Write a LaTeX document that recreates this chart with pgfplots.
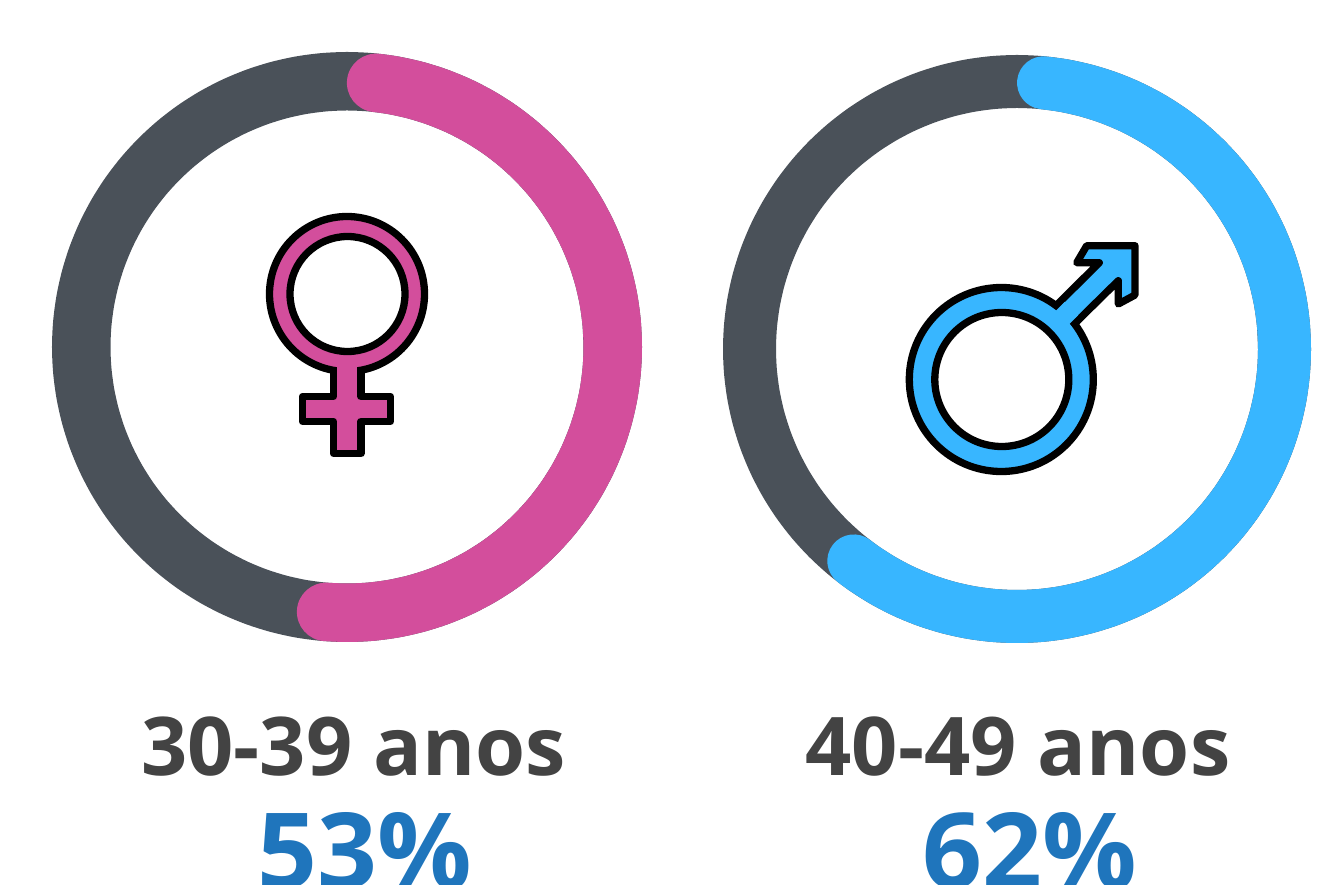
\documentclass[border=0pt]{standalone}
\usepackage{pgfplots}
\pgfplotsset{compat=1.18}
\usepgfplotslibrary{polar}
\usepackage{fontspec}
\setmainfont{Open Sans}[BoldFont={* Bold}]
\definecolor{ringgrey}{HTML}{4A5159}
\definecolor{pinkc}{HTML}{D34E9C}
\definecolor{bluec}{HTML}{38B6FF}
\definecolor{txtc}{HTML}{434343}
\definecolor{pctc}{HTML}{1F75BC}
\begin{document}
\begin{tikzpicture}
\path[use as bounding box,clip] (0,0) rectangle (1341pt,885pt);
% left donut: 53 %
\begin{polaraxis}[at={(347pt,538pt)},anchor=center,scale only axis,width=600pt,height=600pt,
  xmin=0,xmax=360,ymin=0,ymax=300,hide axis,clip=false]
\addplot[ringgrey,smooth,line width=58.5pt,line join=round,no markers] coordinates {
(0,265.75)(5,265.75)(10,265.75)(15,265.75)(20,265.75)(25,265.75)(30,265.75)(35,265.75)(40,265.75)(45,265.75)(50,265.75)(55,265.75)(60,265.75)(65,265.75)(70,265.75)(75,265.75)(80,265.75)(85,265.75)(90,265.75)(95,265.75)(100,265.75)(105,265.75)(110,265.75)(115,265.75)(120,265.75)(125,265.75)(130,265.75)(135,265.75)(140,265.75)(145,265.75)(150,265.75)(155,265.75)(160,265.75)(165,265.75)(170,265.75)(175,265.75)(180,265.75)(185,265.75)(190,265.75)(195,265.75)(200,265.75)(205,265.75)(210,265.75)(215,265.75)(220,265.75)(225,265.75)(230,265.75)(235,265.75)(240,265.75)(245,265.75)(250,265.75)(255,265.75)(260,265.75)(265,265.75)(270,265.75)(275,265.75)(280,265.75)(285,265.75)(290,265.75)(295,265.75)(300,265.75)(305,265.75)(310,265.75)(315,265.75)(320,265.75)(325,265.75)(330,265.75)(335,265.75)(340,265.75)(345,265.75)(350,265.75)(355,265.75)(360,265.75)(365,265.75)};
\addplot[pinkc,smooth,line width=58.5pt,line join=round,line cap=round,no markers] coordinates {
(83.7,265.75)(80,265.75)(75,265.75)(70,265.75)(65,265.75)(60,265.75)(55,265.75)(50,265.75)(45,265.75)(40,265.75)(35,265.75)(30,265.75)(25,265.75)(20,265.75)(15,265.75)(10,265.75)(5,265.75)(0,265.75)(-5,265.75)(-10,265.75)(-15,265.75)(-20,265.75)(-25,265.75)(-30,265.75)(-35,265.75)(-40,265.75)(-45,265.75)(-50,265.75)(-55,265.75)(-60,265.75)(-65,265.75)(-70,265.75)(-75,265.75)(-80,265.75)(-85,265.75)(-90,265.75)(-94.5,265.75)};
\end{polaraxis}
% right donut: 62 %
\begin{polaraxis}[at={(1017pt,536pt)},anchor=center,scale only axis,width=600pt,height=600pt,
  xmin=0,xmax=360,ymin=0,ymax=300,hide axis,clip=false]
\addplot[ringgrey,smooth,line width=53pt,line join=round,no markers] coordinates {
(0,267.5)(5,267.5)(10,267.5)(15,267.5)(20,267.5)(25,267.5)(30,267.5)(35,267.5)(40,267.5)(45,267.5)(50,267.5)(55,267.5)(60,267.5)(65,267.5)(70,267.5)(75,267.5)(80,267.5)(85,267.5)(90,267.5)(95,267.5)(100,267.5)(105,267.5)(110,267.5)(115,267.5)(120,267.5)(125,267.5)(130,267.5)(135,267.5)(140,267.5)(145,267.5)(150,267.5)(155,267.5)(160,267.5)(165,267.5)(170,267.5)(175,267.5)(180,267.5)(185,267.5)(190,267.5)(195,267.5)(200,267.5)(205,267.5)(210,267.5)(215,267.5)(220,267.5)(225,267.5)(230,267.5)(235,267.5)(240,267.5)(245,267.5)(250,267.5)(255,267.5)(260,267.5)(265,267.5)(270,267.5)(275,267.5)(280,267.5)(285,267.5)(290,267.5)(295,267.5)(300,267.5)(305,267.5)(310,267.5)(315,267.5)(320,267.5)(325,267.5)(330,267.5)(335,267.5)(340,267.5)(345,267.5)(350,267.5)(355,267.5)(360,267.5)(365,267.5)};
\addplot[bluec,smooth,line width=53pt,line join=round,line cap=round,no markers] coordinates {
(84.3,267.5)(80,267.5)(75,267.5)(70,267.5)(65,267.5)(60,267.5)(55,267.5)(50,267.5)(45,267.5)(40,267.5)(35,267.5)(30,267.5)(25,267.5)(20,267.5)(15,267.5)(10,267.5)(5,267.5)(0,267.5)(-5,267.5)(-10,267.5)(-15,267.5)(-20,267.5)(-25,267.5)(-30,267.5)(-35,267.5)(-40,267.5)(-45,267.5)(-50,267.5)(-55,267.5)(-60,267.5)(-65,267.5)(-70,267.5)(-75,267.5)(-80,267.5)(-85,267.5)(-90,267.5)(-95,267.5)(-100,267.5)(-105,267.5)(-110,267.5)(-115,267.5)(-120,267.5)(-125,267.5)(-127.6,267.5)};
\end{polaraxis}
% overlay in pixel coordinates
\begin{axis}[at={(0pt,0pt)},anchor=south west,scale only axis,width=1341pt,height=885pt,
  xmin=0,xmax=1341,ymin=0,ymax=885,y dir=reverse,hide axis,clip=false]
% female sign
\draw[black,fill=pinkc,line width=7.3pt,line join=round]
  (333.5,365)--(333.5,396.5)--(302.5,396.5)--(302.5,421.5)--(333.5,421.5)--(333.5,453.5)
  --(361,453.5)--(361,421.5)--(390.5,421.5)--(390.5,396.5)--(361,396.5)--(361,365)--cycle;
\draw[black,fill=pinkc,line width=7.3pt] (347,294) circle[radius=77.5pt];
\fill[pinkc] (337.2,362) rectangle (357.3,380);
\draw[black,fill=white,line width=7.3pt] (347.5,294) circle[radius=57.5pt];
% male sign
\draw[black,fill=bluec,line width=7.3pt,line join=round]
  (1056.7,305)--(1099.3,262.7)--(1076.7,262.7)--(1086.7,245.7)--(1135,245.7)--(1135,295)
  --(1118.3,304)--(1118.3,280.7)--(1075,323.3)--(1060,340)--cycle;
\draw[black,fill=bluec,line width=7.3pt] (1001.3,379.5) circle[radius=92pt];
\fill[bluec] (1064.9,301.8)--(1078.2,315.1)--(1066.8,326.5)--(1053.5,313.2)--cycle;
\draw[black,fill=white,line width=7.3pt] (1001.8,379.5) circle[radius=67pt];
% texts
\node[anchor=base,inner sep=0pt,text=txtc,font=\fontsize{81pt}{81pt}\selectfont\bfseries] at (353.5,775) {30-39 anos};
\node[anchor=base,inner sep=0pt,text=txtc,font=\fontsize{81pt}{81pt}\selectfont\bfseries] at (1018,775) {40-49 anos};
\node[anchor=base,inner sep=0pt,text=pctc,font=\fontsize{105pt}{105pt}\selectfont\bfseries] at (365,888) {53\%};
\node[anchor=base,inner sep=0pt,text=pctc,font=\fontsize{105pt}{105pt}\selectfont\bfseries] at (1030,888) {62\%};
\end{axis}
\end{tikzpicture}
\end{document}
